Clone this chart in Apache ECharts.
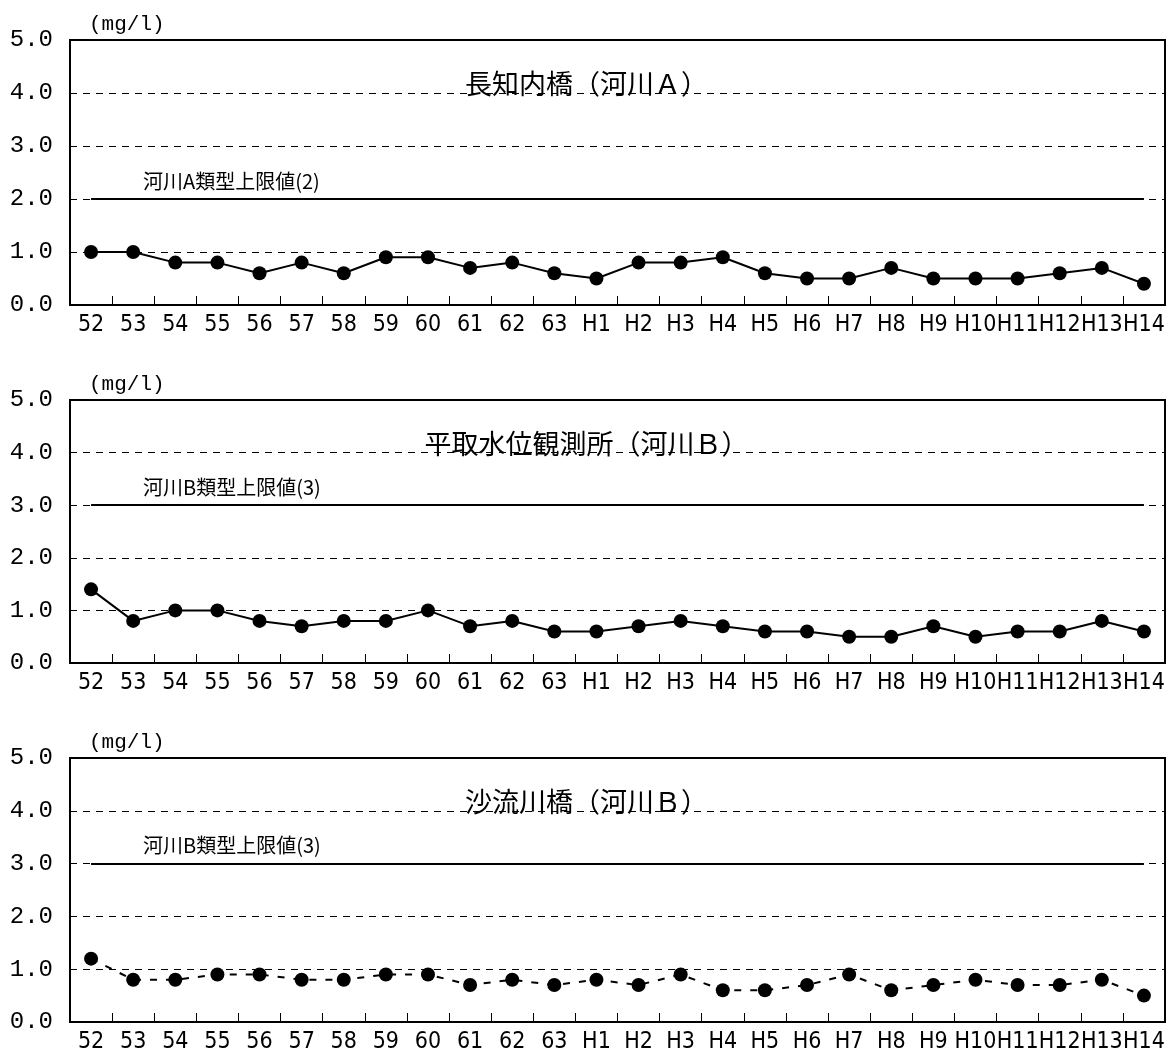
<!DOCTYPE html>
<html><head><meta charset="utf-8">
<script src="https://cdn.jsdelivr.net/npm/echarts@6/dist/echarts.min.js"></script>
<style>html,body{margin:0;padding:0;background:#fff}#c{width:1173px;height:1054px}</style>
</head><body><div id="c"></div>
<script>
const categories = ['52','53','54','55','56','57','58','59','60','61','62','63','H1','H2','H3','H4','H5','H6','H7','H8','H9','H10','H11','H12','H13','H14'];
const yTicks = ['0.0','1.0','2.0','3.0','4.0','5.0'];
const chartTitles = ['長知内橋（河川Ａ）','平取水位観測所（河川Ｂ）','沙流川橋（河川Ｂ）'];
const limitLabels = ['河川A類型上限値(2)','河川B類型上限値(3)','河川B類型上限値(3)'];
const limitValues = [2, 3, 3];
const unitLabel = '(mg/l)';
const valuesA = [1.0,1.0,0.8,0.8,0.6,0.8,0.6,0.9,0.9,0.7,0.8,0.6,0.5,0.8,0.8,0.9,0.6,0.5,0.5,0.7,0.5,0.5,0.5,0.6,0.7,0.4];
const valuesB = [1.4,0.8,1.0,1.0,0.8,0.7,0.8,0.8,1.0,0.7,0.8,0.6,0.6,0.7,0.8,0.7,0.6,0.6,0.5,0.5,0.7,0.5,0.6,0.6,0.8,0.6];
const valuesC = [1.2,0.8,0.8,0.9,0.9,0.8,0.8,0.9,0.9,0.7,0.8,0.7,0.8,0.7,0.9,0.6,0.6,0.7,0.9,0.6,0.7,0.8,0.7,0.7,0.8,0.5];
const seriesValues = [valuesA, valuesB, valuesC];
const lineTypes = ['solid','solid',[7,9]];

const NARROW = '"Liberation Sans Narrow","DejaVu Sans Condensed","Liberation Sans",sans-serif';
const MONO = '"Liberation Mono","DejaVu Sans Mono",monospace';
const CJK = '"Noto Sans CJK JP",sans-serif';
const grids = [
  {left:70, right:8, top:40, height:265},
  {left:70, right:8, top:400, height:263},
  {left:70, right:8, top:758, height:264}
];
const option = {
  animation:false,
  backgroundColor:'#fff',
  grid: grids.map(g => Object.assign({show:true, borderColor:'#000', borderWidth:2, backgroundColor:'transparent'}, g)),
  title: [],
  xAxis: grids.map((g,i) => ({
    type:'category', gridIndex:i, data:categories, boundaryGap:true,
    axisLine:{lineStyle:{color:'#000', width:2}},
    axisTick:{show:true, inside:true, length:9, interval:0, lineStyle:{color:'#000', width:1}},
    axisLabel:{color:'#000', fontSize:23, fontFamily:NARROW, margin:9, interval:0}
  })),
  yAxis: grids.map((g,i) => ({
    type:'value', gridIndex:i, min:0, max:5, interval:1,
    axisLine:{show:true, lineStyle:{color:'#000', width:2}},
    axisTick:{show:false},
    axisLabel:{color:'#000', fontSize:24, fontFamily:MONO, margin:17, formatter: v => yTicks[Math.round(v)]},
    splitLine:{show:true, lineStyle:{color:'#000', width:1, type:[7,6]}}
  })),
  series: seriesValues.map((vals,i) => ({
    type:'line', xAxisIndex:i, yAxisIndex:i, data:vals,
    symbol:'circle', symbolSize:14,
    itemStyle:{color:'#000'},
    lineStyle:{color:'#000', width:2, type:lineTypes[i]},
    markLine:{
      silent:true, symbol:'none', label:{show:false},
      lineStyle:{color:'#000', width:2, type:'solid'},
      data:[[{coord:[categories[0], limitValues[i]]},{coord:[categories[categories.length-1], limitValues[i]]}]]
    },
    z:3
  }))
};
grids.forEach((g,i) => {
  option.title.push({text:unitLabel, left:84, top:g.top-31, textStyle:{fontSize:21, fontWeight:'normal', color:'#000', fontFamily:MONO}});
  option.title.push({text:chartTitles[i], left:'center', top:g.top+25, textStyle:{fontSize:27, fontWeight:'normal', color:'#000', fontFamily:CJK}});
  option.title.push({text:limitLabels[i], left:138, top:g.top+(5-limitValues[i])*(g.height/5)-33, textStyle:{fontSize:20, fontWeight:'normal', color:'#000', fontFamily:CJK}});
});
const chart = echarts.init(document.getElementById('c'));
chart.setOption(option);
</script></body></html>
